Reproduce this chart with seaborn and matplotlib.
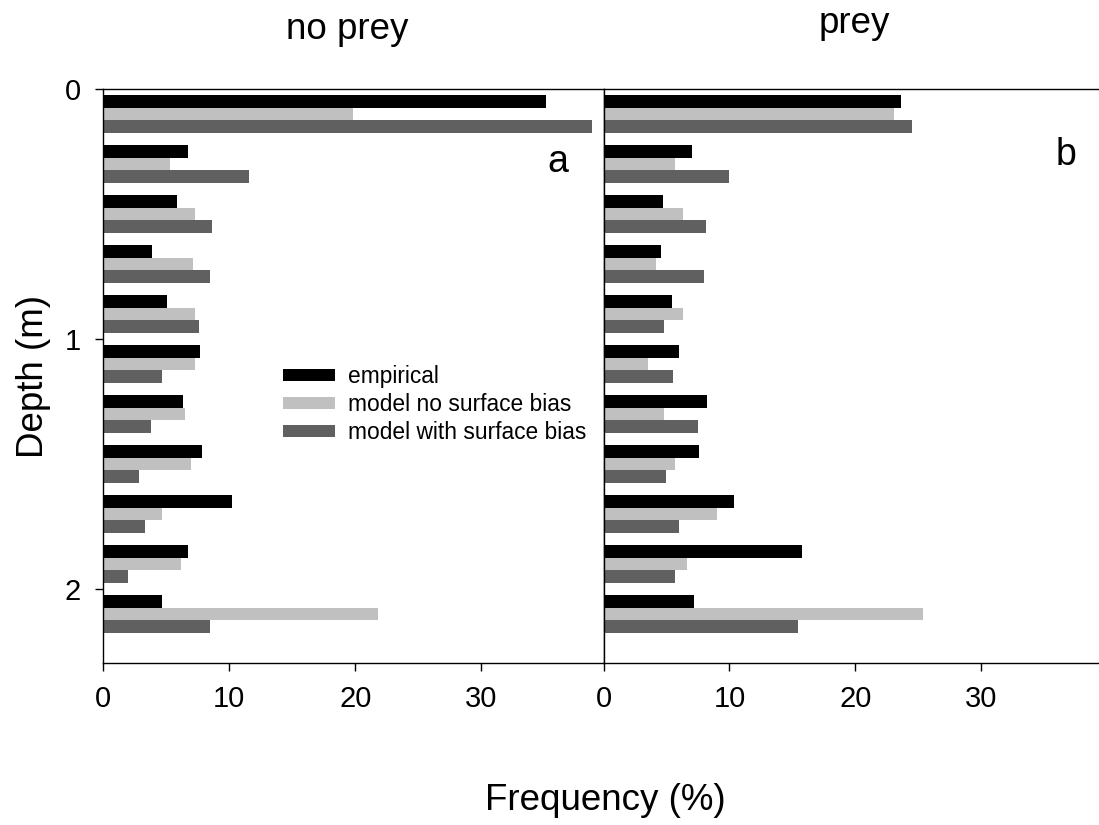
import numpy as np
import pandas as pd
import matplotlib
matplotlib.use("Agg")
import matplotlib.pyplot as plt
import seaborn as sns
from matplotlib.patches import Patch

sns.set_theme(style="white")
plt.rcParams['font.family'] = ['Liberation Sans', 'DejaVu Sans']
plt.rcParams['text.color'] = 'black'
plt.rcParams['xtick.color'] = 'black'
plt.rcParams['ytick.color'] = 'black'
plt.rcParams['axes.labelcolor'] = 'black'

depths = [0.1, 0.3, 0.5, 0.7, 0.9, 1.1, 1.3, 1.5, 1.7, 1.9, 2.1]
series = ["empirical", "model no surface bias", "model with surface bias"]
colors = ["#000000", "#c0c0c0", "#606060"]

noprey_empirical = [35.1, 6.7, 5.85, 3.9, 5.05, 7.7, 6.3, 7.85, 10.2, 6.7, 4.65]
noprey_nobias = [19.8, 5.3, 7.3, 7.1, 7.3, 7.3, 6.5, 6.95, 4.65, 6.2, 21.8]
noprey_bias = [38.8, 11.6, 8.6, 8.5, 7.6, 4.65, 3.8, 2.8, 3.3, 1.95, 8.5]

prey_empirical = [23.6, 7.0, 4.7, 4.55, 5.4, 6.0, 8.2, 7.6, 10.35, 15.75, 7.2]
prey_nobias = [23.05, 5.7, 6.3, 4.15, 6.3, 3.5, 4.8, 5.7, 9.0, 6.6, 25.35]
prey_bias = [24.45, 9.95, 8.1, 7.95, 4.8, 5.5, 7.5, 4.95, 6.0, 5.7, 15.45]

yticks = [0, 1, 2]
xticks = [0, 10, 20, 30]


def make_df(a, b, c):
    rows = []
    for name, vals in zip(series, [a, b, c]):
        for d, v in zip(depths, vals):
            rows.append({"depth": d, "freq": v, "series": name})
    return pd.DataFrame(rows)


df_a = make_df(noprey_empirical, noprey_nobias, noprey_bias)
df_b = make_df(prey_empirical, prey_nobias, prey_bias)

W, H = 1099, 825
fig = plt.figure(figsize=(W / 100, H / 100), dpi=100)

x0a, x0b, x1 = 103.3, 603.5, 1103.7
ytop, ybot = 89, 663
axa = fig.add_axes([x0a / W, (H - ybot) / H, (x0b - x0a) / W, (ybot - ytop) / H])
axb = fig.add_axes([x0b / W, (H - ybot) / H, (x1 - x0b) / W, (ybot - ytop) / H])

palette = dict(zip(series, colors))
for ax, df in [(axa, df_a), (axb, df_b)]:
    sns.barplot(data=df, x="freq", y="depth", hue="series", orient="h",
                native_scale=True, palette=palette, width=0.75,
                linewidth=0, saturation=1, legend=False, ax=ax)
    ax.set_ylim(2.295, 0)
    ax.set_xlim(0, 39.7)
    ax.set_xticks(xticks)
    ax.set_xticklabels([str(t) for t in xticks], fontsize=21)
    ax.set_xlabel("")
    ax.set_ylabel("")
    for s in ax.spines.values():
        s.set_color("black")
        s.set_linewidth(1.0)
    ax.tick_params(axis="x", direction="out", length=6, width=1, color="black",
                   bottom=True, pad=10)
    ax.grid(False)

axa.set_yticks(yticks)
axa.set_yticklabels([str(t) for t in yticks], fontsize=21)
axa.tick_params(axis="y", direction="out", length=6, width=1, color="black",
                left=True, pad=10)
axb.set_yticks([])

fig.text(558 / W, 1 - 172 / H, "a", fontsize=27, ha="center", va="baseline")
fig.text(1066 / W, 1 - 165 / H, "b", fontsize=27, ha="center", va="baseline")

fig.text(347 / W, 1 - 39 / H, "no prey", fontsize=26.5, ha="center", va="baseline")
fig.text(854.5 / W, 1 - 33 / H, "prey", fontsize=26.5, ha="center", va="baseline")
fig.text(43 / W, 1 - 376.5 / H, "Depth (m)", fontsize=26.5, ha="center",
         va="baseline", rotation=90, rotation_mode="anchor")
fig.text(605.5 / W, 1 - 810 / H, "Frequency (%)", fontsize=26.5, ha="center",
         va="baseline")

handles = [Patch(facecolor=c, edgecolor="none", label=s) for s, c in zip(series, colors)]
fig.legend(handles=handles, loc="upper left",
           bbox_to_anchor=(283 / W, 1 - 365 / H), frameon=False, fontsize=16.4,
           handlelength=2.28, handleheight=0.44, handletextpad=0.57,
           labelspacing=0.22, borderpad=0, borderaxespad=0)

fig.savefig("out.png", dpi=100)
